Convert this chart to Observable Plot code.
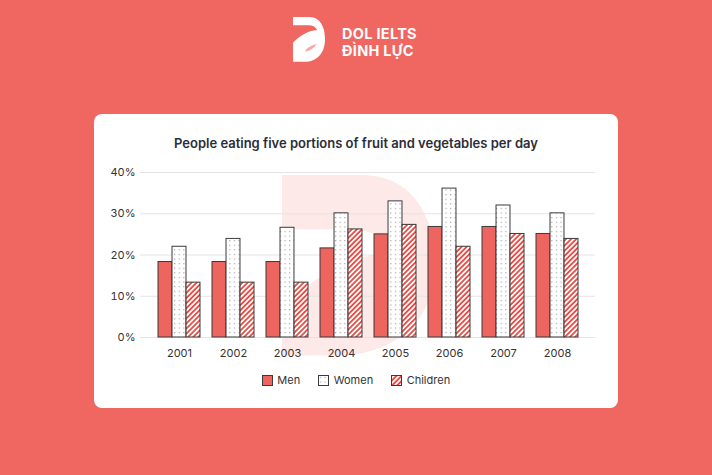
<!DOCTYPE html>
<html><head><meta charset="utf-8">
<script src="https://cdn.jsdelivr.net/npm/d3@7"></script>
<script src="https://cdn.jsdelivr.net/npm/@observablehq/plot@0.6"></script>
<style>
body{margin:0;width:712px;height:475px;background:#EF6760;font-family:Inter,"Noto Sans",sans-serif;position:relative;overflow:hidden}
#logo{position:absolute;left:0;top:0}
.brand{position:absolute;left:342px;color:#fff;font-weight:700;font-size:14.5px;line-height:17.6px;letter-spacing:0.3px;white-space:nowrap}
#card{position:absolute;left:94px;top:114px;width:524px;height:294px;background:#fff;border-radius:8px}
#wm{position:absolute;left:0;top:0}
#title{position:absolute;left:94px;top:135px;width:524px;text-align:center;font-size:13px;font-weight:600;line-height:16px;color:#2b2d38}
#chart{position:absolute;left:94px;top:160px}
#legend{position:absolute;left:94px;top:374px;width:524px;display:flex;justify-content:center;gap:18px;font-size:11px;color:#333;line-height:12px}
#legend .it{display:flex;align-items:center;gap:4.5px}
</style></head><body>
<svg width="0" height="0" style="position:absolute"><defs>
<pattern id="dots" width="4.6" height="4.6" patternUnits="userSpaceOnUse"><rect width="4.6" height="4.6" fill="#fff"/><rect x="2" y="2" width="1" height="1" fill="#808080"/></pattern>
<pattern id="stripes" width="3.6" height="3.6" patternUnits="userSpaceOnUse" patternTransform="rotate(45)"><rect width="3.6" height="3.6" fill="#fff"/><rect width="1.8" height="3.6" fill="#EA4B43"/></pattern>
<path id="dshape" d="M0,0 H52 C84,0 100,30 100,70 C100,112 74,140 36,140 H0 Z"/>
<path id="dcut" d="M0,26 H48 C62,26 72,32 76,42 C56,40 30,52 0,80 Z"/>
</defs></svg>
<svg id="logo" width="712" height="80">
<g transform="translate(293,17) scale(0.32)"><use href="#dshape" fill="#fff"/><use href="#dcut" fill="#EF6760"/>
<path d="M38,104 C50,92 62,86 74,84 C66,96 56,104 40,108 Z" fill="#F6A9A4"/></g>
</svg>
<div class="brand" style="top:24.8px">DOL IELTS</div>
<div class="brand" style="top:42.4px">ĐÌNH LỰC</div>
<div id="card"></div>
<svg id="wm" width="712" height="475">
<g transform="translate(282,175) scale(1.53,1.29)"><use href="#dshape" fill="#FCE9E8"/>
<path d="M0,42 H40 C60,42 72,50 78,60 C56,58 30,72 0,100 Z" fill="#fff"/></g>
</svg>
<div id="title">People eating five portions of fruit and vegetables per day</div>
<div id="chart"></div>
<div id="legend"></div>
<script>
const years = ["2001","2002","2003","2004","2005","2006","2007","2008"];
const series = ["Men","Women","Children"];
const men = [18.3,18.3,18.3,21.6,25.0,26.8,26.8,25.1];
const women = [22.0,23.9,26.6,30.1,33.0,36.1,32.0,30.1];
const children = [13.3,13.3,13.3,26.2,27.3,22.0,25.1,23.9];
const yTicks = [0,10,20,30,40];

const values = {Men: men, Women: women, Children: children};
const rows = years.flatMap((y,i)=>series.map(s=>({year:y, series:s, value:values[s][i]})));
const fills = {Men:"#EE6560", Women:"url(#dots)", Children:"url(#stripes)"};

const W=524,H=210,mL=46,mR=23,mT=12,mB=33,pI=0.23,pO=0.28;
const step=(W-mL-mR)/(years.length - pI + 2*pO);
const sub=step*(1-pI)/3;

const plot = Plot.plot({
  width:W, height:H, marginLeft:mL, marginRight:mR, marginTop:mT, marginBottom:mB,
  style:{fontFamily:"Inter, sans-serif", fontSize:"11px", color:"#333", background:"transparent", overflow:"visible"},
  x:{domain:years, paddingInner:pI, paddingOuter:pO, tickSize:0, tickPadding:12, label:null},
  y:{domain:[0,40], ticks:yTicks, tickFormat:d=>d+"%", tickSize:0, tickPadding:5, label:null},
  marks:[
    Plot.ruleY(yTicks,{stroke:"#e4e4e4", strokeWidth:1}),
    ...series.map((s,k)=>Plot.barY(rows.filter(r=>r.series===s),{
      x:"year", y:"value", fill:fills[s], stroke:"#3a3a3a", strokeWidth:1,
      insetLeft:k*sub, insetRight:(2-k)*sub
    }))
  ]
});
document.getElementById("chart").appendChild(plot);

const lg=document.getElementById("legend");
series.forEach(s=>{
  const it=document.createElement("div"); it.className="it";
  it.innerHTML=`<svg width="11" height="11"><rect x="0.5" y="0.5" width="10" height="10" fill="${fills[s]}" stroke="#3a3a3a"/></svg><span>${s}</span>`;
  lg.appendChild(it);
});
</script>
</body></html>
